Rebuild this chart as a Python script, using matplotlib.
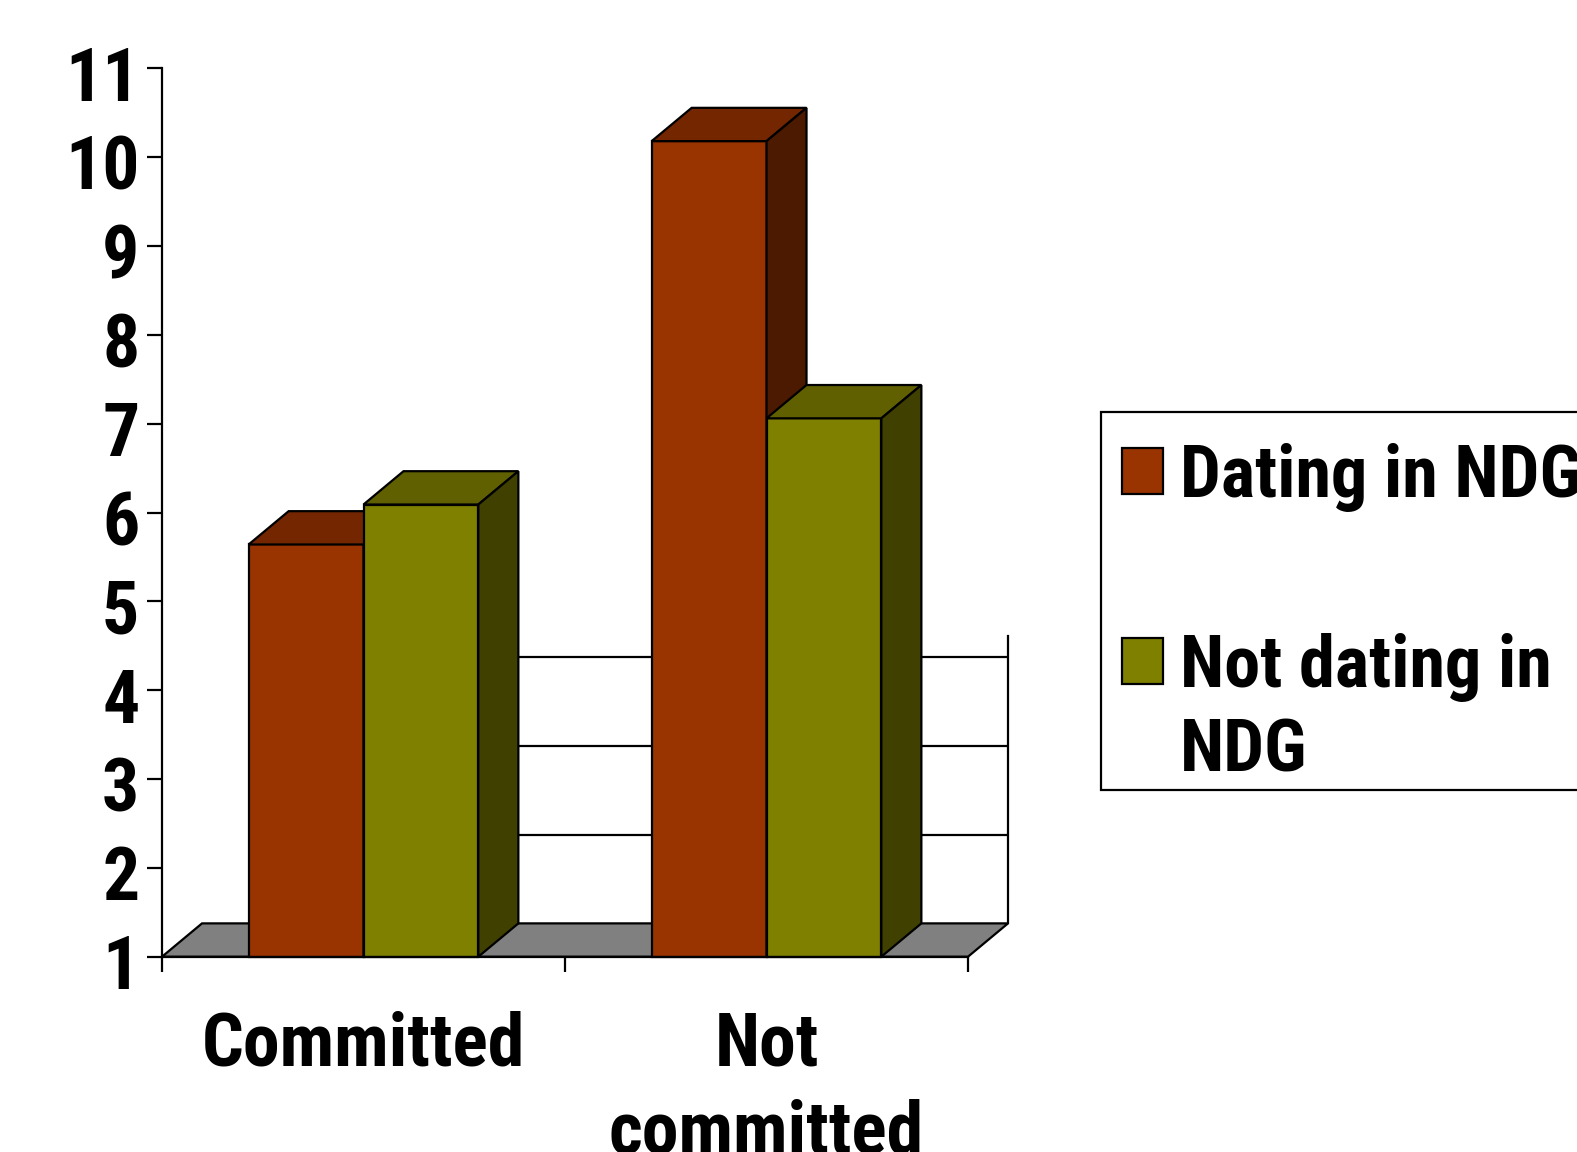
import matplotlib
matplotlib.use("Agg")
import matplotlib.pyplot as plt
from matplotlib.patches import Polygon, Rectangle
from matplotlib.transforms import ScaledTranslation

# ---------------- data ----------------
categories = ["Committed", "Not\ncommitted"]
series_names = ["Dating in NDG", "Not dating in\nNDG"]
dating = [5.64, 10.18]
not_dating = [6.09, 7.06]
yticks = list(range(1, 12))
series_values = [dating, not_dating]

# ---------------- style ----------------
W, H = 1577, 1152
plt.rcParams['font.family'] = ['Roboto Condensed', 'DejaVu Sans']
plt.rcParams['font.weight'] = 'bold'
FRONT = ["#993300", "#808000"]
TOP = ["#732600", "#606000"]
SIDE = ["#4c1a00", "#404000"]
LW = 1.6
FS = 53
LFS = 52
BW = 0.285               # bar width (category units)
DX, DY = 0.0993, 0.375   # 3-D depth offset in data units
WALL_TOP = 4.23
GRID_LEVELS = [2, 3, 4]

fig = plt.figure(figsize=(W / 100, H / 100), dpi=100)
x0px, x1px = 162, 968
ytop_px, ybot_px = 68.3, 956.7
ax = fig.add_axes([x0px / W, 1 - ybot_px / H, (x1px - x0px) / W, (ybot_px - ytop_px) / H])
ax.set_xlim(0, 2)
ax.set_ylim(1, 11)

# floor
floor = Polygon([(0, 1), (2, 1), (2 + DX, 1 + DY), (DX, 1 + DY)], closed=True,
                facecolor="#808080", edgecolor="black", lw=LW, clip_on=False, zorder=1)
ax.add_patch(floor)

centers = [0.5 + i for i in range(len(categories))]
# back-wall gridlines and right wall edge
grid_start = centers[0] - BW + DX
for v in GRID_LEVELS:
    ax.plot([grid_start, 2 + DX], [v + DY, v + DY], color="black", lw=LW, zorder=1.5,
            clip_on=False, solid_capstyle="butt")
ax.plot([2 + DX, 2 + DX], [1 + DY, WALL_TOP + DY], color="black", lw=LW, zorder=1.5,
        clip_on=False)

# 3-D bars
for j, vals in enumerate(series_values):
    z = 3 + j
    for i, v in enumerate(vals):
        xl = centers[i] - BW + j * BW
        xr = xl + BW
        ax.bar(xl, v - 1, bottom=1, width=BW, align="edge", color=FRONT[j],
               edgecolor="black", lw=LW, zorder=z, clip_on=False)
        ax.add_patch(Polygon([(xl, v), (xr, v), (xr + DX, v + DY), (xl + DX, v + DY)],
                             closed=True, facecolor=TOP[j], edgecolor="black", lw=LW,
                             zorder=z, clip_on=False, joinstyle="miter"))
        ax.add_patch(Polygon([(xr, 1), (xr, v), (xr + DX, v + DY), (xr + DX, 1 + DY)],
                             closed=True, facecolor=SIDE[j], edgecolor="black", lw=LW,
                             zorder=z, clip_on=False, joinstyle="miter"))

# spines
for s in ["top", "right"]:
    ax.spines[s].set_visible(False)
ax.spines["left"].set_linewidth(LW)
ax.spines["bottom"].set_linewidth(LW)
ax.spines["bottom"].set_zorder(6)
ax.set_facecolor("none")

# ticks
ax.set_yticks(yticks)
ax.set_yticklabels([str(t) for t in yticks], fontsize=FS, fontweight="bold")
ax.tick_params(axis="y", length=10.8, width=LW, direction="out", pad=5.5)
ax.set_xticks([0, 1, 2])
ax.set_xticklabels([])
ax.tick_params(axis="x", which="major", length=10.8, width=LW, direction="out")
ax.set_xticks(centers, minor=True)
ax.set_xticklabels(categories, minor=True, fontsize=FS, fontweight="bold", linespacing=1.34)
ax.tick_params(axis="x", which="minor", length=0, pad=38.5)
for lbl in ax.get_yticklabels():
    lbl.set_transform(lbl.get_transform() + ScaledTranslation(0, -5 / 100, fig.dpi_scale_trans))

# legend (boxed key, positioned in pixels)
def fx(px):
    return px / W

def fy(py):
    return 1 - py / H

frame = Rectangle((fx(1100.7), fy(790)), fx(1800) - fx(1100.7), fy(411.7) - fy(790),
                  transform=fig.transFigure, facecolor="white", edgecolor="black", lw=LW,
                  clip_on=False, zorder=1)
fig.add_artist(frame)
entry_base = [496.7, 686.7]
for j, name in enumerate(series_names):
    b = entry_base[j]
    fig.add_artist(Rectangle((fx(1121.7), fy(b - 2.4)), fx(41.6), fy(b - 49) - fy(b - 2.4),
                             transform=fig.transFigure, facecolor=FRONT[j], edgecolor="black",
                             lw=LW, zorder=2))
    fig.text(fx(1180), fy(b - 0.75 * LFS * 100 / 72), name, va="top", ha="left",
             fontsize=LFS, fontweight="bold", linespacing=1.3, zorder=3)

fig.savefig("out.png", dpi=100)
